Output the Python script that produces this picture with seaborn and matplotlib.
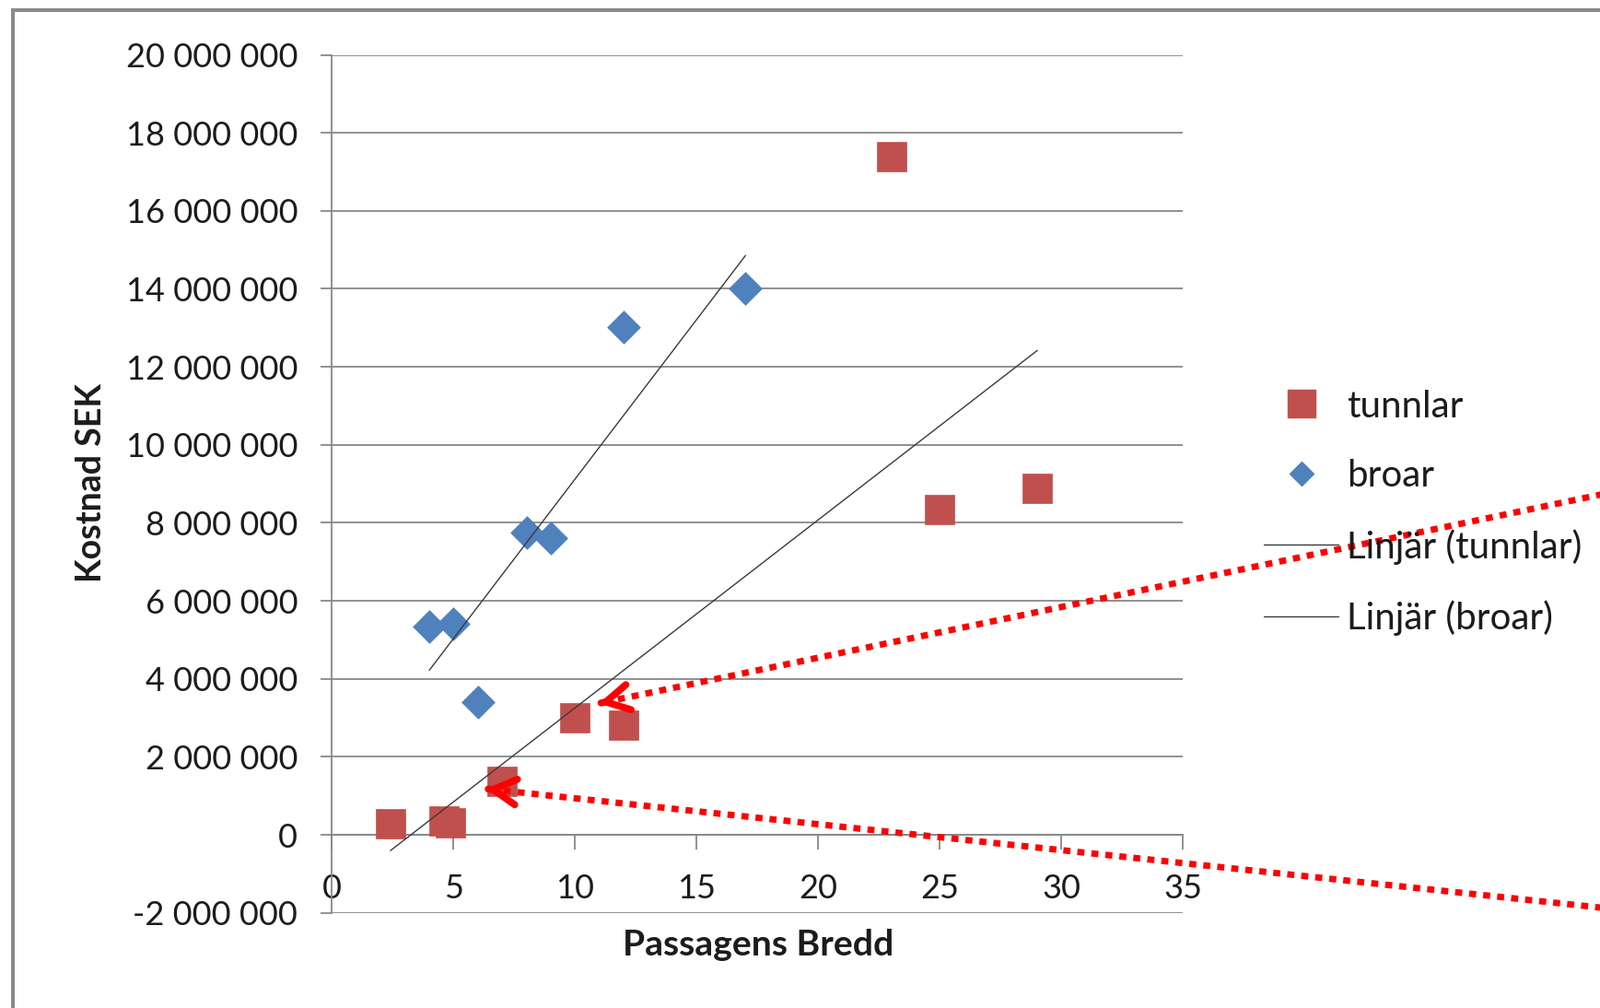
import numpy as np
import pandas as pd
import matplotlib
matplotlib.use("Agg")
import matplotlib.pyplot as plt
import seaborn as sns
from matplotlib.lines import Line2D
from matplotlib.patches import Rectangle
from matplotlib.ticker import FuncFormatter, FixedLocator

# ---------------- data ----------------
tunnlar_x = [2.4, 4.6, 4.85, 7, 10, 12, 23, 25, 29]
tunnlar_y = [280_000, 350_000, 320_000, 1_380_000, 3_000_000, 2_820_000,
             17_380_000, 8_350_000, 8_880_000]
broar_x = [4, 5, 6, 8, 9, 12, 17]
broar_y = [5_340_000, 5_400_000, 3_410_000, 7_760_000, 7_600_000,
           13_030_000, 14_000_000]

series_labels = ["tunnlar", "broar"]
trend_labels = ["Linjär (tunnlar)", "Linjär (broar)"]
x_title = "Passagens Bredd"
y_title = "Kostnad SEK"
x_ticks = [0, 5, 10, 15, 20, 25, 30, 35]
y_ticks = [-2_000_000, 0, 2_000_000, 4_000_000, 6_000_000, 8_000_000,
           10_000_000, 12_000_000, 14_000_000, 16_000_000, 18_000_000,
           20_000_000]

# red dotted call-out arrows: tip in data coords, tail in figure fraction
arrow_tips = [(10.97, 3_370_000), (6.33, 1_180_000)]
arrow_tails = [(1.0363, 0.5212), (1.0363, 0.0935)]

RED = "#C0504D"
BLUE = "#4F81BD"
GRID = "#888888"
TXT = "#1c1c1c"
TREND = "#3a3a3a"

sns.set_theme(style="white")
plt.rcParams["font.family"] = ["Lato", "DejaVu Sans"]

W, H = 1737, 1094
fig = plt.figure(figsize=(W / 100, H / 100), dpi=100)
fig.patch.set_facecolor("white")
ax = fig.add_axes([0.20754, 0.09442, 0.53195, 0.85119])

df_t = pd.DataFrame({"x": tunnlar_x, "y": tunnlar_y})
df_b = pd.DataFrame({"x": broar_x, "y": broar_y})

sns.scatterplot(data=df_t, x="x", y="y", marker="s", s=560, color=RED,
                edgecolor=RED, linewidth=0.5, ax=ax, zorder=3, legend=False)
sns.scatterplot(data=df_b, x="x", y="y", marker="D", s=330, color=BLUE,
                edgecolor=BLUE, linewidth=0.5, ax=ax, zorder=3, legend=False)
sns.regplot(data=df_t, x="x", y="y", scatter=False, ci=None, truncate=True,
            color=TREND, line_kws=dict(lw=1.0, zorder=4), ax=ax)
sns.regplot(data=df_b, x="x", y="y", scatter=False, ci=None, truncate=True,
            color=TREND, line_kws=dict(lw=1.0, zorder=4), ax=ax)

ax.set_xlim(0, 35)
ax.set_ylim(-2_000_000, 20_000_000)
ax.xaxis.set_major_locator(FixedLocator(x_ticks))
ax.yaxis.set_major_locator(FixedLocator(y_ticks))
ax.yaxis.set_major_formatter(
    FuncFormatter(lambda v, p: f"{v:,.0f}".replace(",", " ").replace("\u2212", "-")))
ax.xaxis.set_major_formatter(FuncFormatter(lambda v, p: f"{v:.0f}"))

ax.set_axisbelow(True)
ax.yaxis.grid(True, color=GRID, lw=1.3)
ax.xaxis.grid(False)
for s in ["top", "right"]:
    ax.spines[s].set_visible(False)
ax.spines["left"].set_color(GRID)
ax.spines["left"].set_linewidth(1.3)
ax.spines["bottom"].set_position(("data", 0))
ax.spines["bottom"].set_color(GRID)
ax.spines["bottom"].set_linewidth(1.3)

ax.tick_params(axis="y", which="major", direction="out", length=8.4, width=1.3,
               color=GRID, pad=18.5, labelsize=26, labelcolor=TXT, left=True)
ax.tick_params(axis="x", which="major", direction="out", length=11.3, width=1.3,
               color=GRID, pad=19, labelsize=26, labelcolor=TXT, bottom=True)

ax.set_xlabel(x_title, fontsize=28.2, fontweight="bold", color=TXT)
ax.set_ylabel(y_title, fontsize=27, fontweight="bold", color=TXT)
ax.xaxis.set_label_coords(0.5011, -0.0185)
ax.yaxis.set_label_coords(-0.2648, 0.5012)

handles = [
    Line2D([], [], marker="s", ls="none", color=RED, markersize=21),
    Line2D([], [], marker="D", ls="none", color=BLUE, markersize=13.7),
    Line2D([], [], color=TREND, lw=1.0),
    Line2D([], [], color=TREND, lw=1.0),
]
leg = fig.legend(handles, series_labels + trend_labels, loc="center left",
                 bbox_to_anchor=(1371.7 / W, 1 - 556.2 / H),
                 bbox_transform=fig.transFigure, frameon=False, fontsize=29,
                 handlelength=2.03, handletextpad=0.22, labelspacing=0.96,
                 borderpad=0, borderaxespad=0)
for t in leg.get_texts():
    t.set_color(TXT)

# chart-area border (extends past the right and bottom edges of the picture)
fig.add_artist(Rectangle((13.8 / W, -0.5), 2.0, 1 - 11 / H + 0.5,
                         transform=fig.transFigure, fill=False,
                         edgecolor="#8a8a8a", lw=2.9, clip_on=False, zorder=0))

# red dotted call-out arrows
fig.canvas.draw()
for tip, tail in zip(arrow_tips, arrow_tails):
    tip_px = ax.transData.transform(tip)
    tail_px = fig.transFigure.transform(tail)
    d = tail_px - tip_px
    d = d / np.hypot(*d)
    ax.annotate("", xy=tip, xycoords="data", xytext=tail,
                textcoords="figure fraction", annotation_clip=False,
                arrowprops=dict(arrowstyle="-", color="#FF0000", lw=5.0,
                                linestyle=(0, (1.1, 1.1)), shrinkA=0, shrinkB=0,
                                capstyle="butt"), zorder=6)
    off = d * 2.5 * 72 / 100
    ax.annotate("", xy=tip, xycoords="data", xytext=(off[0], off[1]),
                textcoords="offset points", annotation_clip=False,
                arrowprops=dict(arrowstyle="->,head_length=18,head_width=10",
                                color="#FF0000", lw=5.5, shrinkA=0, shrinkB=0,
                                mutation_scale=1, capstyle="round",
                                joinstyle="miter"), zorder=6)

fig.savefig("out.png", dpi=100, facecolor="white")
